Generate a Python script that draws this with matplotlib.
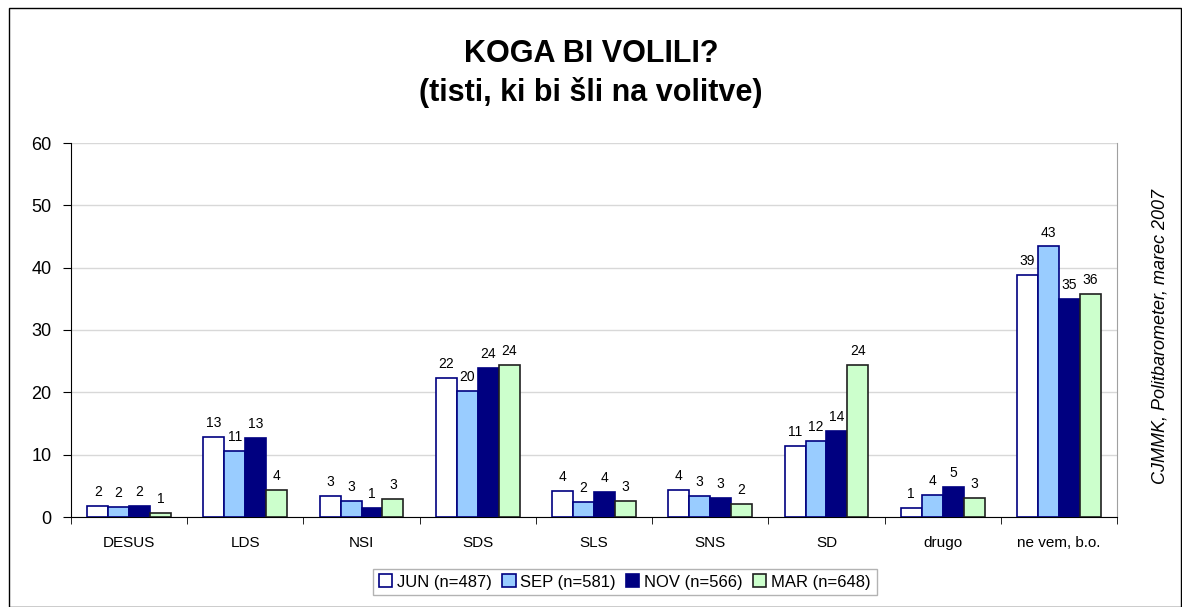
import matplotlib.pyplot as plt
import numpy as np
from matplotlib.patches import Rectangle

plt.rcParams['font.family'] = ['Liberation Sans', 'DejaVu Sans']

# data
categories = ['DESUS', 'LDS', 'NSI', 'SDS', 'SLS', 'SNS', 'SD', 'drugo', 'ne vem, b.o.']
series_names = ['JUN (n=487)', 'SEP (n=581)', 'NOV (n=566)', 'MAR (n=648)']
jun = [1.8, 12.9, 3.4, 22.3, 4.2, 4.3, 11.4, 1.4, 38.8]
sep = [1.6, 10.6, 2.6, 20.2, 2.4, 3.4, 12.2, 3.6, 43.4]
nov = [1.8, 12.7, 1.4, 23.9, 4.0, 3.1, 13.8, 4.8, 35.0]
mar = [0.7, 4.3, 2.9, 24.4, 2.6, 2.1, 24.4, 3.1, 35.8]
y_ticks = [0, 10, 20, 30, 40, 50, 60]

fills = ['white', '#99CCFF', '#000080', '#CCFFCC']
edges = ['#000080', '#000080', '#000080', '#202020']

W, H = 1182, 607
fig = plt.figure(figsize=(W / 100, H / 100), dpi=100)
ax = fig.add_axes([71 / W, 1 - 517 / H, 1046 / W, 374 / H])

x = np.arange(len(categories))
w = 0.18
for i, vals in enumerate([jun, sep, nov, mar]):
    pos = x + (i - 1.5) * w
    bars = ax.bar(pos, vals, w, color=fills[i], edgecolor=edges[i],
                  linewidth=1.2, label=series_names[i], zorder=3)
    for b, v in zip(bars, vals):
        ax.annotate('%d' % round(v), (b.get_x() + b.get_width() / 2, v),
                    xytext=(0, 5), textcoords='offset points',
                    ha='center', va='bottom', fontsize=10)

ax.set_xlim(-0.5, len(categories) - 0.5)
ax.set_ylim(0, 60)
ax.set_yticks(y_ticks)
ax.tick_params(axis='y', labelsize=13, length=6, direction='out', pad=8)
ax.set_xticks(x)
ax.set_xticklabels(categories, fontsize=11)
ax.tick_params(axis='x', length=0, pad=14)
ax.set_xticks(np.arange(-0.5, len(categories)), minor=True)
ax.tick_params(axis='x', which='minor', length=5, direction='out')
ax.grid(axis='y', color='#d8d8d8', linewidth=1, zorder=0)
ax.spines['top'].set_visible(False)
ax.spines['right'].set_color('#a0a0a0')
ax.spines['left'].set_color('black')
ax.spines['bottom'].set_color('black')

fig.text(0.5, 1 - 54 / H, 'KOGA BI VOLILI?', ha='center', va='center',
         fontsize=22, fontweight='bold')
fig.text(0.5, 1 - 93 / H, '(tisti, ki bi šli na volitve)', ha='center',
         va='center', fontsize=22, fontweight='bold')
fig.text(1160 / W, 1 - 337 / H, 'CJMMK, Politbarometer, marec 2007',
         rotation=90, ha='center', va='center', fontsize=13, style='italic')

leg = fig.legend(loc='center', bbox_to_anchor=(625 / W, 1 - 582 / H),
                 ncol=4, fontsize=12, frameon=True, fancybox=False,
                 handlelength=0.8, handleheight=0.8, handletextpad=0.3,
                 columnspacing=0.6, borderpad=0.35)
leg.get_frame().set_edgecolor('#a0a0a0')
leg.get_frame().set_linewidth(1)

# outer chart border
fig.patches.append(Rectangle((9 / W, 0.0), 1 - 10 / W, 1 - 8 / H,
                             transform=fig.transFigure, fill=False,
                             edgecolor='black', linewidth=1))

fig.savefig('out.png', dpi=100)
